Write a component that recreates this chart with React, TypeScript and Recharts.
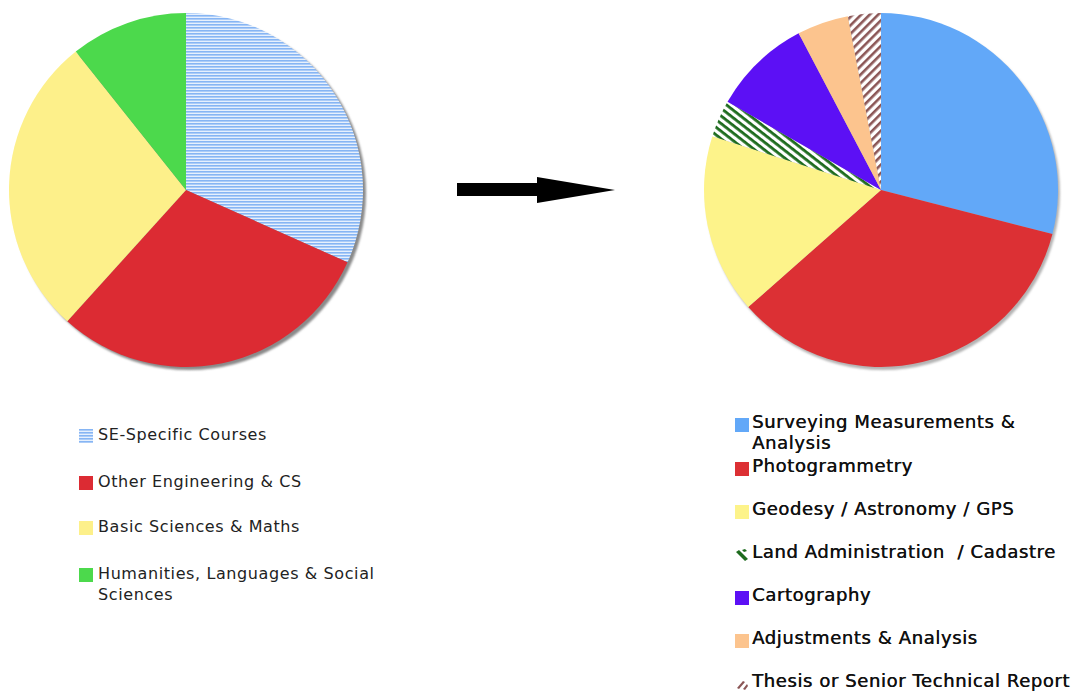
import React from "react";
import { Cell, Customized, Pie, PieChart } from "recharts";

// left pie: curriculum share before
const leftNames = [
  "SE-Specific Courses",
  "Other Engineering & CS",
  "Basic Sciences & Maths",
  "Humanities, Languages & Social Sciences",
];
const leftValues = [31.7, 30.0, 27.6, 10.7];
const leftFills = ["url(#hStripeBlue)", "#dc2b33", "#fdf08a", "#4cd94c"];

// right pie: curriculum share after
const rightNames = [
  "Surveying Measurements & Analysis",
  "Photogrammetry",
  "Geodesy / Astronomy / GPS",
  "Land Administration  / Cadastre",
  "Cartography",
  "Adjustments & Analysis",
  "Thesis or Senior Technical Report",
];
const rightValues = [29.0, 34.5, 16.4, 3.4, 9.0, 4.7, 3.0];
const rightFills = [
  "#62a8f8",
  "#dc3034",
  "#fdf38a",
  "url(#dStripeGreen)",
  "#5c10f5",
  "#fcc48e",
  "url(#dStripeBrown)",
];

const leftData = leftNames.map((name, i) => ({ name, value: leftValues[i] }));
const rightData = rightNames.map((name, i) => ({ name, value: rightValues[i] }));
const shadowData = [{ name: "shadow", value: 1 }];

const W = 1076;
const H = 691;

function Defs() {
  return (
    <defs>
      <pattern id="hStripeBlue" width="4" height="3" patternUnits="userSpaceOnUse">
        <rect width="4" height="3" fill="#e6f0fd" />
        <rect width="4" height="1.6" fill="#86b5f4" />
      </pattern>
      <pattern
        id="dStripeGreen"
        width="6"
        height="6"
        patternUnits="userSpaceOnUse"
        patternTransform="rotate(38)"
      >
        <rect width="6" height="6" fill="#ffffff" />
        <rect width="6" height="2.8" fill="#1d6b1d" />
      </pattern>
      <pattern
        id="dStripeBrown"
        width="6"
        height="6"
        patternUnits="userSpaceOnUse"
        patternTransform="rotate(-45)"
      >
        <rect width="6" height="6" fill="#ffffff" />
        <rect width="6" height="2.6" fill="#8b5656" />
      </pattern>
      <filter id="soft" x="-10%" y="-10%" width="120%" height="120%">
        <feGaussianBlur stdDeviation="1" />
      </filter>
    </defs>
  );
}

function Arrow() {
  return (
    <g>
      <rect x={457} y={183} width={81} height={13} fill="#000" />
      <polygon points="537,177 615,190 537,203" fill="#000" />
    </g>
  );
}

function LegendIcon({ fill, kind }: { fill: string; kind?: string }) {
  if (kind === "green") {
    return (
      <svg width={14} height={14} style={{ flex: "none" }}>
        <path d="M1 4 L4 2 L13 11 L10 13 Z" fill="#1d6b1d" />
        <path d="M7 2 L10 1 L12 3 L9 4 Z" fill="#1d6b1d" />
      </svg>
    );
  }
  if (kind === "brown") {
    return (
      <svg width={14} height={14} style={{ flex: "none" }}>
        <path d="M2 11 L8 4 L10 5 L4 12 Z" fill="#8b5656" />
        <path d="M8 12 L12 7 L13 9 L10 13 Z" fill="#8b5656" />
      </svg>
    );
  }
  return (
    <svg width={14} height={14} style={{ flex: "none" }}>
      <rect x={0} y={0} width={14} height={14} fill={fill} />
    </svg>
  );
}

export default function App() {
  const leftRows = [434, 481, 526, 573];
  const rightRows = [422, 466, 509, 552, 595, 638, 681];

  return (
    <div style={{ position: "absolute", left: 0, top: 0, width: W, height: H, background: "#fff" }}>
      <PieChart width={W} height={H} margin={{ top: 0, right: 0, bottom: 0, left: 0 }}>
        <Customized component={Defs} />
        <Pie
          data={shadowData}
          dataKey="value"
          cx={189}
          cy={193}
          outerRadius={177}
          fill="#8a8a8a"
          stroke="none"
          isAnimationActive={false}
          style={{ filter: "url(#soft)" }}
        />
        <Pie
          data={leftData}
          dataKey="value"
          cx={186}
          cy={190}
          outerRadius={177}
          startAngle={90}
          endAngle={-270}
          stroke="none"
          isAnimationActive={false}
        >
          {leftData.map((d, i) => (
            <Cell key={d.name} fill={leftFills[i]} />
          ))}
        </Pie>
        <Pie
          data={shadowData}
          dataKey="value"
          cx={883}
          cy={193}
          outerRadius={177}
          fill="#b4b4b4"
          stroke="none"
          isAnimationActive={false}
          style={{ filter: "url(#soft)" }}
        />
        <Pie
          data={rightData}
          dataKey="value"
          cx={881}
          cy={190}
          outerRadius={177}
          startAngle={90}
          endAngle={-270}
          stroke="none"
          isAnimationActive={false}
        >
          {rightData.map((d, i) => (
            <Cell key={d.name} fill={rightFills[i]} />
          ))}
        </Pie>
        <Customized component={Arrow} />
      </PieChart>

      {leftNames.map((name, i) => (
        <div
          key={name}
          style={{
            position: "absolute",
            left: 79,
            top: leftRows[i] - 10,
            width: 310,
            display: "flex",
            alignItems: "flex-start",
            gap: 5,
            fontFamily: "'DejaVu Sans', Verdana, sans-serif",
            fontSize: 16,
            letterSpacing: 0.6,
            lineHeight: "21px",
            color: "#222",
          }}
        >
          <div style={{ marginTop: 3 }}>
            <LegendIcon fill={leftFills[i]} />
          </div>
          <span>{name}</span>
        </div>
      ))}

      {rightNames.map((name, i) => (
        <div
          key={name}
          style={{
            position: "absolute",
            left: 735,
            top: rightRows[i] - 11,
            width: 340,
            display: "flex",
            alignItems: "flex-start",
            gap: 3,
            fontFamily: "'DejaVu Sans', Verdana, sans-serif",
            fontSize: 18,
            letterSpacing: 0.6,
            lineHeight: "21px",
            color: "#111",
            whiteSpace: i === 0 ? "normal" : "pre",
            textShadow: "0.4px 0 0 #111",
          }}
        >
          <div style={{ marginTop: 4 }}>
            <LegendIcon fill={rightFills[i]} kind={i === 3 ? "green" : i === 6 ? "brown" : undefined} />
          </div>
          <span style={{ maxWidth: i === 0 ? 280 : undefined }}>{name}</span>
        </div>
      ))}
    </div>
  );
}
